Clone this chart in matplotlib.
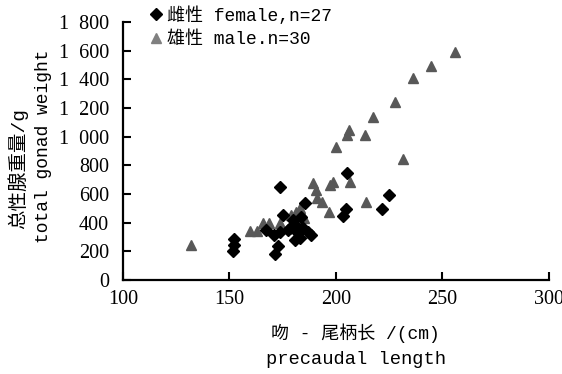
import matplotlib
matplotlib.use('Agg')
import matplotlib.pyplot as plt

# 雌性 female (precaudal length cm, total gonad weight g)
female_len = [152.1, 152.1, 151.6, 173.8, 175.3, 171.0, 172.6, 171.5, 177.7,
              181.9, 183.1, 183.6, 185.4, 187.0, 188.4, 205.3, 204.8, 203.3,
              225.0, 221.9, 180.0, 181.4, 174.0, 178.6, 167.0, 184.7, 181.0]
female_wt = [286, 244, 200, 650, 454, 314, 237, 180, 349,
             337, 295, 442, 535, 337, 314, 745, 493, 447,
             593, 493, 419, 377, 335, 363, 349, 363, 279]

# 雄性 male
male_len = [132, 159.5, 163, 165.6, 168.8, 174, 179, 180, 181.4, 183,
            189.3, 190.7, 191.2, 193.5, 197.2, 198.6, 196.7, 206.5, 214.4, 231.6,
            200, 256, 244.7, 236.1, 227.6, 217.5, 206.4, 205.3, 213.8, 185]
male_wt = [244, 342, 342, 398, 398, 398, 454, 419, 474, 502,
           677, 628, 572, 544, 663, 684, 475, 684, 544, 844,
           930, 1593, 1493, 1412, 1244, 1140, 1047, 1012, 1012, 430]

x_ticks = [100, 150, 200, 250, 300]
y_ticks = [0, 200, 400, 600, 800, 1000, 1200, 1400, 1600, 1800]
y_labels = ['0', '200', '400', '600', '800',
            '1  000', '1  200', '1  400', '1  600', '1  800']

mono = ['Liberation Mono', 'Noto Sans CJK SC']
serif = ['Liberation Serif', 'Noto Sans CJK SC']

fig = plt.figure(figsize=(5.62, 3.74), dpi=100)
ax = fig.add_axes([0.219, 0.251, 0.757, 0.69])

ax.plot(male_len, male_wt, linestyle='none', marker='^', markersize=6.8,
        color='#585858', label='雄性 male.n=30')
ax.plot(female_len, female_wt, linestyle='none', marker='D', markersize=6.3,
        color='black', label='雌性 female,n=27')

ax.set_xlim(100, 300)
ax.set_ylim(0, 1800)
ax.set_xticks(x_ticks)
ax.set_xticklabels([str(v) for v in x_ticks], family=serif, fontsize=14.5)
ax.set_yticks(y_ticks)
ax.set_yticklabels(y_labels, family=serif, fontsize=14.5)
ax.tick_params(direction='in', length=6, width=1.5)
ax.tick_params(axis='y', pad=10)
ax.tick_params(axis='x', pad=7)

for s in ['top', 'right']:
    ax.spines[s].set_visible(False)
for s in ['left', 'bottom']:
    ax.spines[s].set_linewidth(1.6)

h, l = ax.get_legend_handles_labels()
leg = fig.legend([h[1], h[0]], [l[1], l[0]], loc='upper left',
                 bbox_to_anchor=(0.245, 1.018), frameon=False,
                 prop={'family': mono, 'size': 13}, handlelength=0.6,
                 handletextpad=0.3, labelspacing=0.35, borderpad=0.2)
leg.legend_handles[1].set_color('#808080')

fig.text(0.032, 0.55, '总性腺重量/g', rotation=90, ha='center', va='center',
         family=mono, fontsize=14)
fig.text(0.077, 0.61, 'total gonad weight', rotation=90, ha='center', va='center',
         family=mono, fontsize=13)
fig.text(0.632, 0.11, '吻 - 尾柄长 /(cm)', ha='center', va='center',
         family=mono, fontsize=13)
fig.text(0.633, 0.038, 'precaudal length', ha='center', va='center',
         family=mono, fontsize=13.5)

fig.savefig('out.png', dpi=100)
